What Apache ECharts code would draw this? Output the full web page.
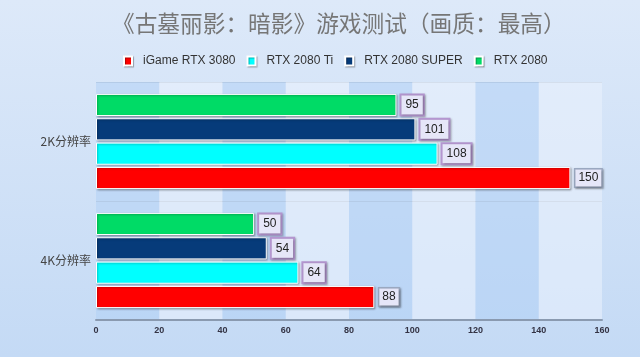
<!DOCTYPE html>
<html><head><meta charset="utf-8">
<script src="https://cdn.jsdelivr.net/npm/echarts@6/dist/echarts.min.js"></script>
<style>html,body{margin:0;padding:0;}#c{width:640px;height:357px;}</style>
</head><body><div id="c"></div>
<script>
var categories = ['4K分辨率', '2K分辨率'];
var seriesNames = ['iGame RTX 3080', 'RTX 2080 Ti', 'RTX 2080 SUPER', 'RTX 2080'];
var igame3080 = [88, 150];
var rtx2080ti = [64, 108];
var rtx2080super = [54, 101];
var rtx2080 = [50, 95];
var colors = ['#ff0000', '#00ffff', '#063b7a', '#00db66'];

var allData = [igame3080, rtx2080ti, rtx2080super, rtx2080];
var order = [3, 2, 1, 0];
var chart = echarts.init(document.getElementById('c'));
chart.setOption({
  backgroundColor: new echarts.graphic.LinearGradient(0, 0, 0, 1, [
    {offset: 0, color: '#dde9f9'}, {offset: 1, color: '#c4daf5'}
  ]),
  title: {
    text: '《古墓丽影：暗影》游戏测试（画质：最高）',
    left: 107, top: 7,
    textStyle: {fontFamily: 'Noto Sans CJK SC', fontWeight: 'normal', fontSize: 22.7, color: '#767676'}
  },
  legend: {
    top: 50, left: 118, itemWidth: 8, itemHeight: 9, itemGap: 11,
    icon: 'rect',
    textStyle: {fontFamily: 'Liberation Sans', fontSize: 12, color: '#333', padding: [0, 0, 0, 6]},
    data: seriesNames.map(function (n, i) {
      return {name: n, itemStyle: {shadowColor: 'rgba(0,0,0,0.3)', shadowBlur: 1, shadowOffsetX: 1, shadowOffsetY: 1}};
    })
  },
  grid: {left: 96, right: 38, top: 82, bottom: 37, containLabel: false},
  xAxis: {
    type: 'value', min: 0, max: 160, interval: 20,
    axisLine: {show: true, lineStyle: {color: '#8a9ab0', width: 2}},
    axisTick: {show: false},
    axisLabel: {fontFamily: 'Liberation Sans', fontWeight: 'bold', fontSize: 9, color: '#334', margin: 6},
    splitLine: {show: false},
    splitArea: {show: true, areaStyle: {color: ['rgba(175,208,246,0.5)', 'rgba(235,243,253,0.55)']}}
  },
  yAxis: {
    type: 'category', data: categories,
    axisLine: {show: false}, axisTick: {show: false},
    axisLabel: {fontFamily: 'Noto Sans CJK SC', fontSize: 12, color: '#444', margin: 5},
    splitLine: {show: true, interval: 0, lineStyle: {color: '#b8c6d8', width: 1}}
  },
  series: order.map(function (i) {
    return {
      name: seriesNames[i], type: 'bar', data: allData[i],
      barCategoryGap: '20%', barGap: '10%',
      itemStyle: {color: colors[i], borderColor: '#ffffff', borderWidth: 1,
        shadowColor: 'rgba(0,0,0,0.3)', shadowBlur: 2, shadowOffsetX: 1, shadowOffsetY: 1},
      label: {
        show: true, position: 'right', distance: 5,
        fontFamily: 'Liberation Sans', fontSize: 12, color: '#222',
        backgroundColor: '#e6e6f8', borderColor: i === 0 ? '#9aa8c0' : '#b496d0', borderWidth: i === 0 ? 1.5 : 2,
        padding: i === 0 ? [3, 3, 2, 3] : [4, 4, 3, 4],
        shadowColor: 'rgba(0,0,0,0.3)', shadowBlur: 2, shadowOffsetX: 1, shadowOffsetY: 1
      }
    };
  })
});
</script></body></html>
